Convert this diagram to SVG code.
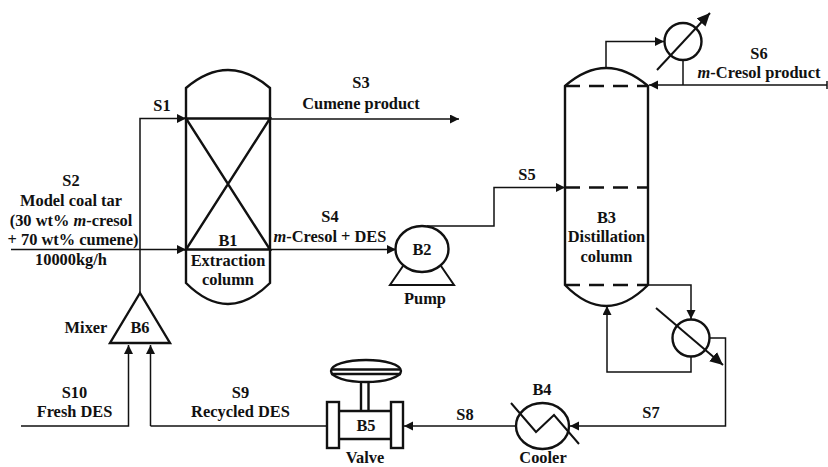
<svg xmlns="http://www.w3.org/2000/svg" width="828" height="467" viewBox="0 0 828 467">
<defs>
<marker id="arrow" markerUnits="userSpaceOnUse" markerWidth="11" markerHeight="10" refX="9" refY="4.500" orient="auto"><path d="M0 0L9 4.500L0 9Z" fill="#111"/></marker>
<marker id="big" markerUnits="userSpaceOnUse" markerWidth="15" markerHeight="13" refX="13" refY="6" orient="auto"><path d="M0 0L13 6L0 12Z" fill="#111"/></marker>
</defs>
<style>
text{font-family:"Liberation Serif","Times New Roman",serif;font-weight:bold;font-size:16.4px;fill:#111;text-anchor:middle}
.i{font-style:italic}
.eq{fill:none;stroke:#111;stroke-width:2.4}
.d{fill:none;stroke:#111;stroke-width:2.4;stroke-dasharray:15 9}
.th{fill:none;stroke:#111;stroke-width:2}
.c{fill:none;stroke:#111;stroke-width:1.5}
.ca{fill:none;stroke:#111;stroke-width:1.5;marker-end:url(#arrow)}
.hx{fill:none;stroke:#111;stroke-width:2;marker-end:url(#big)}
</style>
<rect width="828" height="467" fill="#fff"/>
<g id="connectors">
<path class="ca" d="M140 293V118.500H186"/>
<path class="ca" d="M11 249.500H186"/>
<path class="ca" d="M270 119H459"/>
<path class="ca" d="M270 249.500H396"/>
<path class="ca" d="M427 226H494V187.500H565"/>
<path class="ca" d="M606 68V41.500H664"/>
<path class="c" d="M683 60V85"/>
<path class="ca" d="M827 85H649"/>
<path class="c" d="M827 81V89"/>
<path class="ca" d="M648 285H691V319"/>
<path class="ca" d="M691 356V372H607V306"/>
<path class="ca" d="M710 338H725.500V426H570"/>
<path class="ca" d="M516 426H404"/>
<path class="c" d="M327 426H150.500"/>
<path class="ca" d="M150.500 426V345"/>
<path class="ca" d="M21 426H128.500V345"/>
</g>
<g id="B1">
<path class="eq" d="M186 88Q228 52 270 88V283Q228 325 186 283Z"/>
<path class="eq" d="M186 118.500H270L186 249.500H270Z"/>
<text x="228" y="246">B1</text><text x="228" y="266">Extraction</text><text x="228" y="285">column</text>
</g>
<g id="B2">
<ellipse class="eq" cx="422" cy="249" rx="26.500" ry="23"/>
<path class="th" d="M403 266L390 285H454L441 266"/>
<text x="422" y="255">B2</text><text x="425" y="304">Pump</text>
</g>
<g id="B3">
<path class="eq" d="M565 86Q606 50 648 86V285Q606 327 565 285Z"/>
<path class="d" d="M565 86H648M565 187.500H648M565 285H648"/>
<text x="606.500" y="223">B3</text><text x="606.500" y="242">Distillation</text><text x="606.500" y="262">column</text>
</g>
<g id="condenser">
<circle class="eq" cx="683" cy="41.500" r="18.500"/>
<path class="hx" d="M657 70L710 13"/>
</g>
<g id="reboiler">
<circle class="eq" cx="691" cy="338" r="18.500"/>
<path class="hx" d="M656 308L723 365"/>
</g>
<g id="B4">
<ellipse class="eq" cx="542.500" cy="426" rx="26.500" ry="23"/>
<path class="th" d="M511 403L536 432L554 415L579 444"/>
<text x="542" y="395">B4</text><text x="543" y="463">Cooler</text>
</g>
<g id="B5">
<ellipse class="eq" cx="366" cy="371" rx="35" ry="11"/>
<path class="eq" d="M331 369.500H401M331 374H401"/>
<path class="eq" d="M361 382V411M368.500 382V411"/>
<path class="eq" d="M339 411H391M339 439H391"/>
<rect class="eq" x="327" y="402" width="12" height="46"/>
<rect class="eq" x="391" y="402" width="12" height="46"/>
<text x="366" y="431">B5</text><text x="365" y="463">Valve</text>
</g>
<g id="B6">
<path class="eq" d="M140 293L170 343H110Z"/>
<text x="140" y="333">B6</text><text x="86" y="333">Mixer</text>
</g>
<g id="labels">
<text x="162" y="111">S1</text>
<text x="71" y="186">S2</text>
<text x="71" y="206">Model coal tar</text>
<text x="71" y="226">(30 wt% <tspan class="i">m</tspan>-cresol</text>
<text x="73" y="244.500">+ 70 wt% cumene)</text>
<text x="71" y="265">10000kg/h</text>
<text x="361" y="88">S3</text>
<text x="361" y="109">Cumene product</text>
<text x="330" y="222">S4</text>
<text x="330" y="242"><tspan class="i">m</tspan>-Cresol + DES</text>
<text x="527" y="180">S5</text>
<text x="759" y="59">S6</text>
<text x="759" y="78"><tspan class="i">m</tspan>-Cresol product</text>
<text x="651" y="418">S7</text>
<text x="465" y="420">S8</text>
<text x="240.500" y="398">S9</text>
<text x="240.500" y="417">Recycled DES</text>
<text x="74.500" y="398">S10</text>
<text x="74.500" y="417">Fresh DES</text>
</g>
</svg>
